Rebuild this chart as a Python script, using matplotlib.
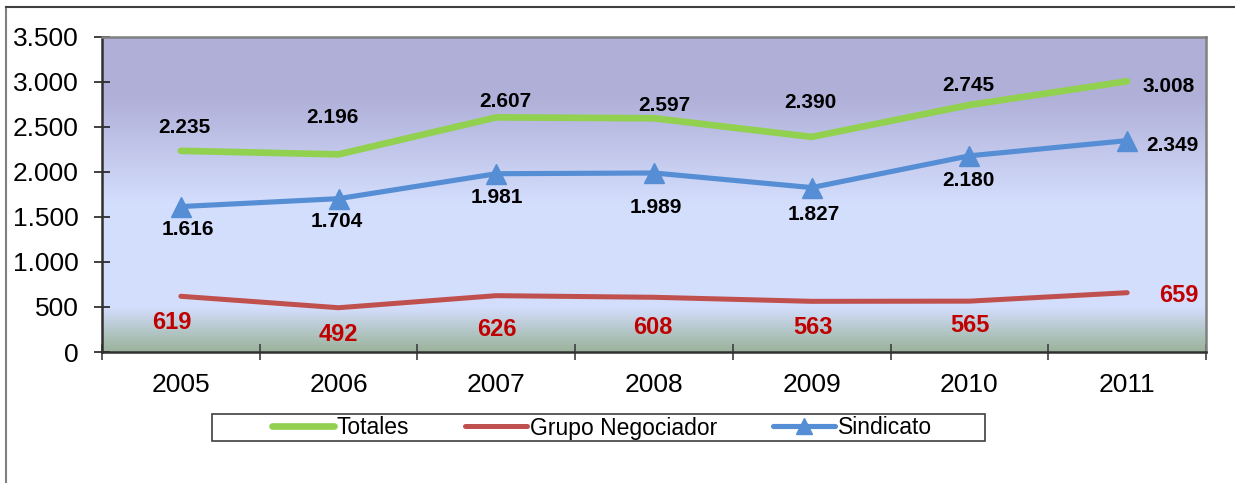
import matplotlib
matplotlib.use("Agg")
import matplotlib.pyplot as plt
import numpy as np
from matplotlib.colors import LinearSegmentedColormap
from matplotlib.lines import Line2D
from matplotlib.patches import Rectangle

plt.rcParams['font.family'] = ['Liberation Sans', 'DejaVu Sans']

years = ['2005', '2006', '2007', '2008', '2009', '2010', '2011']
totales = [2235, 2196, 2607, 2597, 2390, 2745, 3008]
grupo = [619, 492, 626, 608, 563, 565, 659]
sindicato = [1616, 1704, 1981, 1989, 1827, 2180, 2349]
yticks = [0, 500, 1000, 1500, 2000, 2500, 3000, 3500]
ytick_labels = ['0', '500', '1.000', '1.500', '2.000', '2.500', '3.000', '3.500']

# label placement (pixel offsets of label centre from its point: dx right, dy up)
off_tot = [(4, 25), (-6, 39), (9, 18), (10, 15), (-1, 36), (-1, 21), (41, -3)]
off_sin = [(7, -21), (-2, -21), (1, -22), (2, -33), (2, -25), (-1, -23), (45, -3)]
off_gru = [(-9, -24), (0, -25), (1, -32), (-1, -28), (1, -24), (1, -22), (52, -1)]

def fmt(v):
    return f"{v:,}".replace(",", ".")

W, H = 1235, 483
fig = plt.figure(figsize=(W / 100, H / 100), dpi=100)
fig.patch.set_facecolor('white')
ax = fig.add_axes([102 / W, 1 - 352 / H, (1206 - 102) / W, (352 - 37) / H])

x = np.arange(len(years))
n = len(years)
ax.set_xlim(-0.5, n - 0.5)
ax.set_ylim(0, 3500)

# background gradient
stops = [(0.0, (0.61, 0.70, 0.61)),
         (0.05, (0.68, 0.76, 0.74)),
         (0.14, (0.83, 0.87, 0.99)),
         (0.47, (0.83, 0.87, 0.99)),
         (0.81, (0.69, 0.69, 0.85)),
         (1.0, (0.69, 0.69, 0.85))]
cmap = LinearSegmentedColormap.from_list('bg', stops)
grad = np.linspace(0, 1, 512).reshape(-1, 1)
ax.imshow(grad, aspect='auto', cmap=cmap, origin='lower',
          extent=[-0.5, n - 0.5, 0, 3500], zorder=0)

green = '#92d050'
red = '#c0504d'
blue = '#558ed5'

ax.plot(x, totales, color=green, lw=4.8, solid_capstyle='round', zorder=3)
ax.plot(x, grupo, color=red, lw=3.6, solid_capstyle='round', zorder=3)
ax.plot(x, sindicato, color=blue, lw=3.7, marker='^', ms=15, solid_capstyle='round', zorder=4)

def put(vals, offs, size, color):
    cap = 0.716 * size * 100 / 72
    for i, v in enumerate(vals):
        dx, dy = offs[i]
        ax.annotate(fmt(v), (x[i], v), xytext=(dx, dy - cap / 2), textcoords='offset pixels',
                    ha='center', va='baseline', fontsize=size, fontweight='bold',
                    color=color, zorder=5, annotation_clip=False)

put(totales, off_tot, 15, 'black')
put(sindicato, off_sin, 15, 'black')
put(grupo, off_gru, 17, '#c00000')

ax.set_yticks(yticks)
ax.set_yticklabels(ytick_labels, fontsize=19)
ax.set_xticks(x)
ax.set_xticklabels(years, fontsize=19)
ax.tick_params(axis='x', which='major', length=0, pad=15)
ax.set_xticks(np.arange(-0.5, n, 1.0), minor=True)
ax.tick_params(axis='x', which='minor', length=11.5, direction='inout', width=1.2, color='#404040')
ax.tick_params(axis='y', length=11.5, direction='inout', width=1.2, color='#202020', pad=11)

for side in ['left', 'bottom']:
    ax.spines[side].set_color('#303030')
    ax.spines[side].set_linewidth(1.8)
for side in ['top', 'right']:
    ax.spines[side].set_color('#808080')
    ax.spines[side].set_linewidth(1.8)

# legend
handles = [Line2D([], [], color=green, lw=4.8, solid_capstyle='round'),
           Line2D([], [], color=red, lw=3.6, solid_capstyle='round'),
           Line2D([], [], color=blue, lw=3.7, marker='^', ms=11, solid_capstyle='round')]
leg = fig.legend(handles, ['Totales', 'Grupo Negociador', 'Sindicato'],
                 loc='center', bbox_to_anchor=(602 / W, 1 - 428 / H), ncol=3,
                 frameon=False, prop={'size': 16.5},
                 handlelength=2.7, handletextpad=0.12, columnspacing=2.45,
                 borderpad=0.0, borderaxespad=0)
fig.add_artist(Rectangle((212 / W, 1 - 441 / H), 773 / W, 27 / H, transform=fig.transFigure,
                         facecolor='none', edgecolor='#404040', lw=1.2))

# outer figure border (left and top)
fig.add_artist(Line2D([6 / W, 6 / W], [0, 1 - 7 / H], transform=fig.transFigure, color='#808080', lw=1.5))
fig.add_artist(Line2D([6 / W, 1], [1 - 7 / H, 1 - 7 / H], transform=fig.transFigure, color='#404040', lw=1.5))

fig.savefig('out.png', dpi=100, facecolor='white')
